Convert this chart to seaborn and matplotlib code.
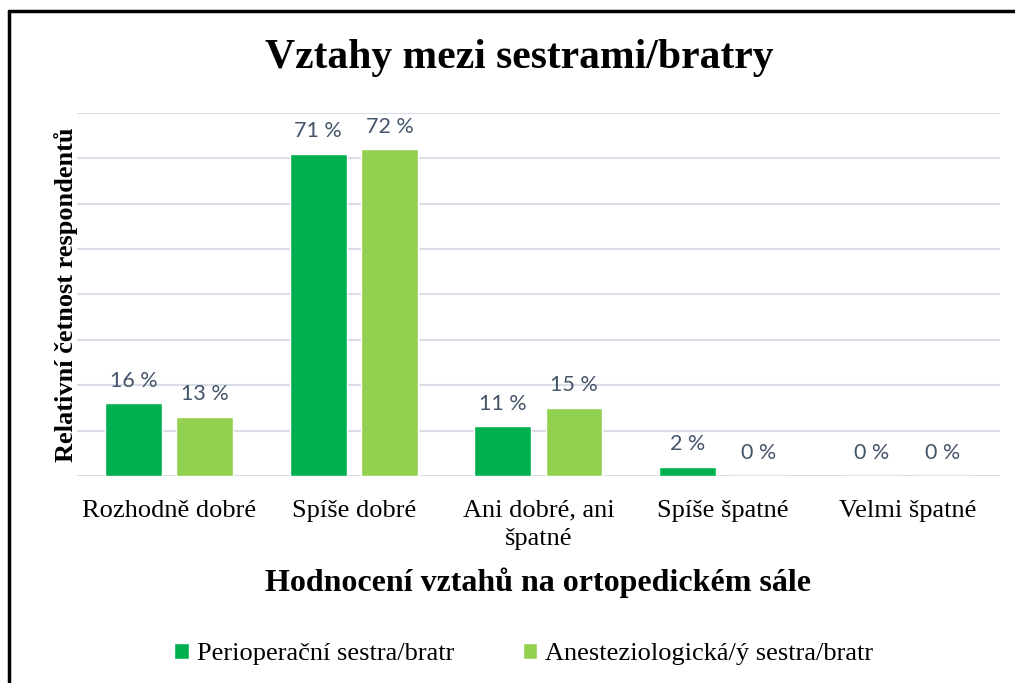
import pandas as pd
import seaborn as sns
import matplotlib.pyplot as plt
from matplotlib.lines import Line2D

# Chart data
categories = ['Rozhodně dobré', 'Spíše dobré', 'Ani dobré, ani\nšpatné', 'Spíše špatné', 'Velmi špatné']
groups = ['Perioperační sestra/bratr', 'Anesteziologická/ý sestra/bratr']
perioperacni = [16, 71, 11, 2, 0]
anesteziologicka = [13, 72, 15, 0, 0]
colors = ['#00B050', '#92D050']

df = pd.DataFrame({
    'kategorie': categories * 2,
    'skupina': [groups[0]] * 5 + [groups[1]] * 5,
    'hodnota': perioperacni + anesteziologicka,
})

sns.set_style('white')
plt.rcParams['font.family'] = ['Liberation Serif', 'DejaVu Serif']
plt.rcParams['text.color'] = 'black'
plt.rcParams['axes.labelcolor'] = 'black'
plt.rcParams['xtick.color'] = 'black'

fig = plt.figure(figsize=(10.15, 6.83), dpi=100)
ax = fig.add_axes([0.0759, 0.3031, 0.9091, 0.5315])

sns.barplot(data=df, x='kategorie', y='hodnota', hue='skupina', palette=colors,
            saturation=1, width=0.77, gap=0.2, ax=ax, legend=True)

ax.set_ylim(0, 80)
ax.set_yticks(range(0, 81, 10))
ax.set_yticklabels([])
ax.tick_params(axis='y', length=0)
ax.tick_params(axis='x', length=0, labelsize=19, pad=17)
for lbl in ax.get_xticklabels():
    lbl.set_linespacing(1.35)
ax.yaxis.grid(True, color='#D9DEE6', linewidth=1.5)
ax.set_axisbelow(True)
for s in ax.spines.values():
    s.set_visible(False)

# data labels
for cont in ax.containers:
    ax.bar_label(cont, labels=[f'{v:.0f} %' for v in cont.datavalues], padding=9,
                 fontsize=15.5, color='#44546A', family=['Lato', 'DejaVu Sans'])

ax.set_xlabel('Hodnocení vztahů na ortopedickém sále', fontsize=23,
              fontweight='bold', labelpad=13)
ax.set_ylabel('Relativní četnost respondentů', fontsize=19, fontweight='bold', labelpad=-4)

fig.text(0.512, 0.915, 'Vztahy mezi sestrami/bratry', ha='center', va='center',
         fontsize=30, fontweight='bold')

ax.legend(loc='center', bbox_to_anchor=(0.484, -0.49), ncol=2, frameon=False,
          fontsize=19, handlelength=0.55, handleheight=0.6, handletextpad=0.3,
          columnspacing=2.6)

# frame around the chart (left and top visible)
fig.add_artist(Line2D([9 / 1015, 9 / 1015], [0, 1 - 11 / 683], color='black', linewidth=2.5,
                      transform=fig.transFigure))
fig.add_artist(Line2D([9 / 1015, 1], [1 - 11 / 683, 1 - 11 / 683], color='black', linewidth=2.5,
                      transform=fig.transFigure))

fig.savefig('out.png', dpi=100)
